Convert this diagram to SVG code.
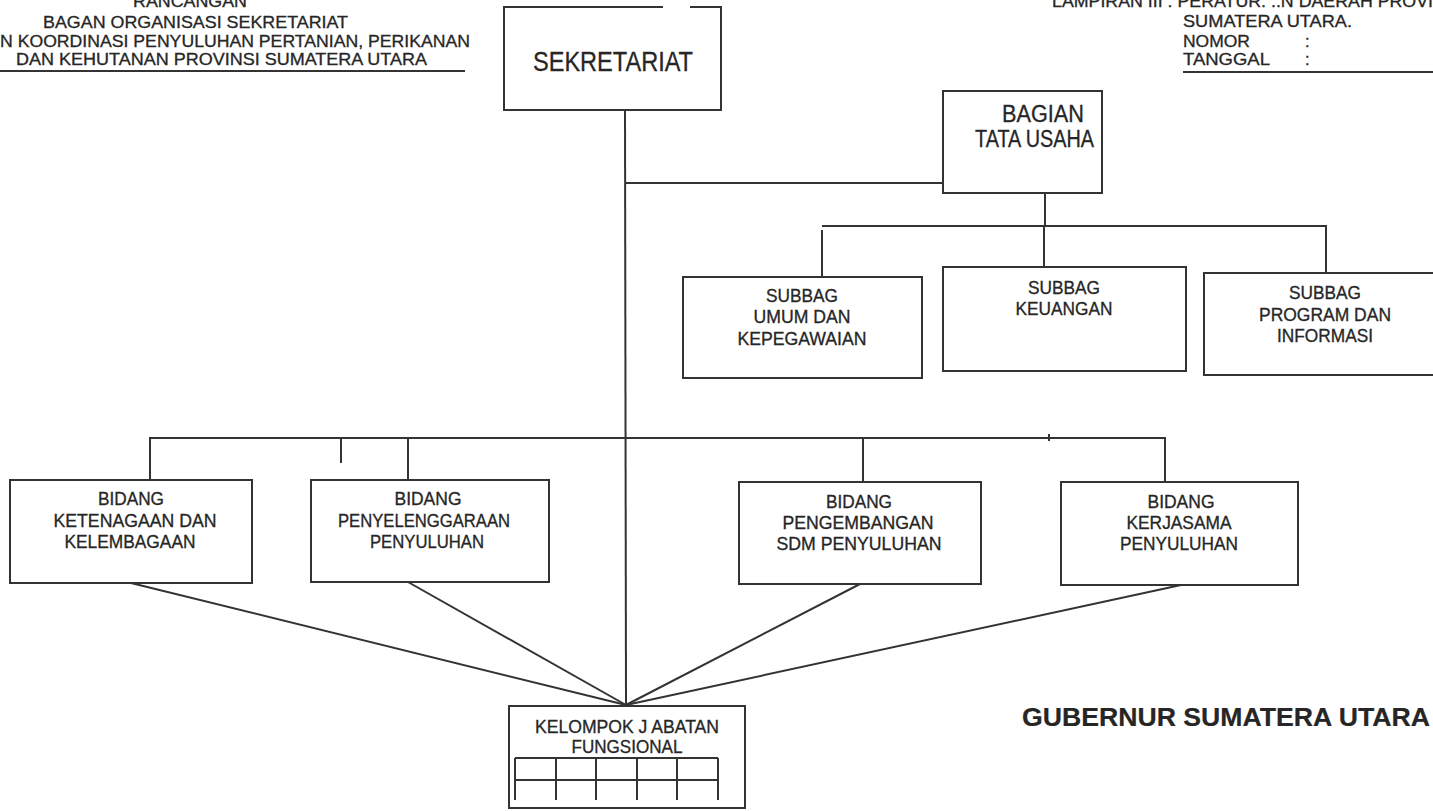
<svg xmlns="http://www.w3.org/2000/svg" width="1433" height="811" viewBox="0 0 1433 811">
<style>
  .bx{fill:none;stroke:#333;stroke-width:2}
  .ln{fill:none;stroke:#333;stroke-width:2}
  text{font-family:"Liberation Sans",Arial,sans-serif;fill:#262626;stroke:#262626;stroke-width:0.3}
  .hd{font-size:16.5px}
  .nd{font-size:17.5px;text-anchor:middle}
  .big{font-size:27px}
  .bag{font-size:23px}
  .gub{font-size:26px;font-weight:bold;stroke-width:0.2}
</style>
<rect width="1433" height="811" fill="#fff"/>

<g id="header-left">
  <text class="hd" x="133" y="7" textLength="114" lengthAdjust="spacingAndGlyphs">RANCANGAN</text>
  <text class="hd" x="43" y="28" textLength="305" lengthAdjust="spacingAndGlyphs">BAGAN ORGANISASI SEKRETARIAT</text>
  <text class="hd" x="0" y="47" textLength="470" lengthAdjust="spacingAndGlyphs">N KOORDINASI  PENYULUHAN PERTANIAN, PERIKANAN</text>
  <text class="hd" x="16" y="65" textLength="411" lengthAdjust="spacingAndGlyphs">DAN KEHUTANAN PROVINSI  SUMATERA UTARA</text>
  <line class="ln" x1="0" y1="71" x2="465" y2="71" stroke-width="1.5"/>
</g>

<g id="header-right">
  <text class="hd" x="1052" y="7" textLength="381" lengthAdjust="spacingAndGlyphs">LAMPIRAN III : PERATUR. ..N DAERAH PROVI</text>
  <text class="hd" x="1183" y="27" textLength="169" lengthAdjust="spacingAndGlyphs">SUMATERA UTARA.</text>
  <text class="hd" x="1183" y="47" textLength="67" lengthAdjust="spacingAndGlyphs">NOMOR</text>
  <text class="hd" x="1305" y="47">:</text>
  <text class="hd" x="1183" y="65" textLength="87" lengthAdjust="spacingAndGlyphs">TANGGAL</text>
  <text class="hd" x="1305" y="65">:</text>
  <line class="ln" x1="1183" y1="72" x2="1433" y2="72" stroke-width="1.5"/>
</g>

<g id="connectors">
  <line class="ln" x1="625" y1="110" x2="626" y2="705"/>
  <line class="ln" x1="625" y1="183" x2="943" y2="183"/>
  <line class="ln" x1="1045" y1="193" x2="1045" y2="226"/>
  <polyline class="ln" points="822,226 1326,226 1326,273"/>
  <line class="ln" x1="822" y1="230" x2="822" y2="277"/>
  <line class="ln" x1="1044" y1="226" x2="1044" y2="267"/>
  <polyline class="ln" points="150,480 150,438 1165,438 1165,482"/>
  <line class="ln" x1="341" y1="438" x2="341" y2="463"/>
  <line class="ln" x1="408" y1="438" x2="408" y2="480"/>
  <line class="ln" x1="863" y1="438" x2="863" y2="482"/>
  <line class="ln" x1="1049" y1="434" x2="1049" y2="441" stroke-width="1.5"/>
  <line class="ln" x1="131" y1="583" x2="626" y2="705"/>
  <line class="ln" x1="408" y1="582" x2="626" y2="705"/>
  <line class="ln" x1="860" y1="584" x2="626" y2="705"/>
  <line class="ln" x1="1181" y1="585" x2="626" y2="705"/>
</g>

<g id="sekretariat">
  <polyline class="bx" points="663,7 504,7 504,110 721,110 721,7 690,7"/>
  <text class="big" x="533" y="71" textLength="160" lengthAdjust="spacingAndGlyphs">SEKRETARIAT</text>
</g>

<g id="bagian-tata-usaha">
  <rect class="bx" x="943" y="91" width="159" height="102"/>
  <text class="bag" x="1002" y="122" textLength="82" lengthAdjust="spacingAndGlyphs">BAGIAN</text>
  <text class="bag" x="975" y="147" textLength="119" lengthAdjust="spacingAndGlyphs">TATA USAHA</text>
</g>

<g id="subbag-umum">
  <rect class="bx" x="683" y="277" width="239" height="101"/>
  <text class="nd" x="802" y="302" textLength="72" lengthAdjust="spacingAndGlyphs">SUBBAG</text>
  <text class="nd" x="802" y="323" textLength="97" lengthAdjust="spacingAndGlyphs">UMUM DAN</text>
  <text class="nd" x="802" y="345" textLength="129" lengthAdjust="spacingAndGlyphs">KEPEGAWAIAN</text>
</g>

<g id="subbag-keuangan">
  <rect class="bx" x="943" y="267" width="243" height="104"/>
  <text class="nd" x="1064" y="294" textLength="72" lengthAdjust="spacingAndGlyphs">SUBBAG</text>
  <text class="nd" x="1064" y="315" textLength="97" lengthAdjust="spacingAndGlyphs">KEUANGAN</text>
</g>

<g id="subbag-program">
  <rect class="bx" x="1204" y="273" width="242" height="102"/>
  <text class="nd" x="1325" y="299" textLength="72" lengthAdjust="spacingAndGlyphs">SUBBAG</text>
  <text class="nd" x="1325" y="321" textLength="132" lengthAdjust="spacingAndGlyphs">PROGRAM DAN</text>
  <text class="nd" x="1325" y="342" textLength="96" lengthAdjust="spacingAndGlyphs">INFORMASI</text>
</g>

<g id="bidang-ketenagaan">
  <rect class="bx" x="10" y="480" width="242" height="103"/>
  <text class="nd" x="131" y="505" textLength="66" lengthAdjust="spacingAndGlyphs">BIDANG</text>
  <text class="nd" x="135" y="527" textLength="163" lengthAdjust="spacingAndGlyphs">KETENAGAAN DAN</text>
  <text class="nd" x="130" y="548" textLength="131" lengthAdjust="spacingAndGlyphs">KELEMBAGAAN</text>
</g>

<g id="bidang-penyelenggaraan">
  <rect class="bx" x="311" y="480" width="238" height="102"/>
  <text class="nd" x="428" y="505" textLength="67" lengthAdjust="spacingAndGlyphs">BIDANG</text>
  <text class="nd" x="424" y="527" textLength="172" lengthAdjust="spacingAndGlyphs">PENYELENGGARAAN</text>
  <text class="nd" x="427" y="548" textLength="114" lengthAdjust="spacingAndGlyphs">PENYULUHAN</text>
</g>

<g id="bidang-pengembangan">
  <rect class="bx" x="739" y="482" width="242" height="102"/>
  <text class="nd" x="859" y="508" textLength="66" lengthAdjust="spacingAndGlyphs">BIDANG</text>
  <text class="nd" x="858" y="529" textLength="151" lengthAdjust="spacingAndGlyphs">PENGEMBANGAN</text>
  <text class="nd" x="859" y="550" textLength="165" lengthAdjust="spacingAndGlyphs">SDM PENYULUHAN</text>
</g>

<g id="bidang-kerjasama">
  <rect class="bx" x="1061" y="482" width="237" height="103"/>
  <text class="nd" x="1181" y="508" textLength="67" lengthAdjust="spacingAndGlyphs">BIDANG</text>
  <text class="nd" x="1179" y="529" textLength="105" lengthAdjust="spacingAndGlyphs">KERJASAMA</text>
  <text class="nd" x="1179" y="550" textLength="118" lengthAdjust="spacingAndGlyphs">PENYULUHAN</text>
</g>

<g id="kelompok-jabatan-fungsional">
  <rect class="bx" x="509" y="706" width="236" height="102"/>
  <text class="nd" x="627" y="733" textLength="184" lengthAdjust="spacingAndGlyphs">KELOMPOK J ABATAN</text>
  <text class="nd" x="627" y="753" textLength="111" lengthAdjust="spacingAndGlyphs">FUNGSIONAL</text>
  <g class="ln" stroke-width="1.8">
    <line x1="515" y1="758" x2="718" y2="758"/>
    <line x1="515" y1="780" x2="718" y2="780"/>
    <line x1="515" y1="758" x2="515" y2="800"/>
    <line x1="556" y1="758" x2="556" y2="800"/>
    <line x1="596" y1="758" x2="596" y2="800"/>
    <line x1="637" y1="758" x2="637" y2="800"/>
    <line x1="677" y1="758" x2="677" y2="800"/>
    <line x1="718" y1="758" x2="718" y2="800"/>
  </g>
</g>

<g id="gubernur">
  <text class="gub" x="1022" y="726" textLength="408" lengthAdjust="spacingAndGlyphs">GUBERNUR SUMATERA UTARA</text>
</g>
</svg>
